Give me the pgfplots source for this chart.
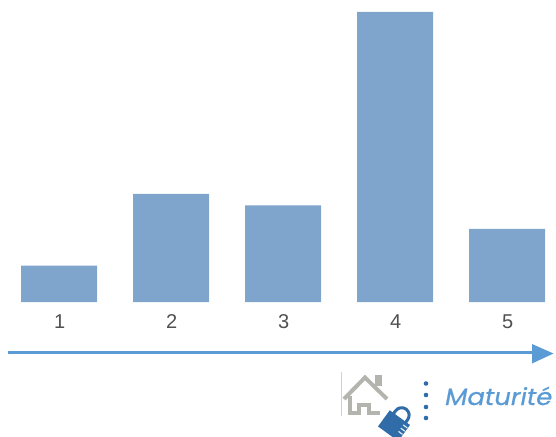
\documentclass[border=0pt]{standalone}
\usepackage{pgfplots}
\pgfplotsset{compat=1.18}
\usepackage{fontspec}
\setmainfont{Liberation Sans}
\newfontfamily\labelfont[FakeStretch=1.1,FakeBold=0.6]{Poppins}
\definecolor{barblue}{HTML}{7FA5CD}
\definecolor{arrowblue}{HTML}{5B9BD5}
\definecolor{lockblue}{HTML}{2F6CA8}
\definecolor{housegrey}{HTML}{B4B4AF}
\definecolor{ticktext}{HTML}{505050}
\begin{document}
\begin{tikzpicture}[x=1pt,y=1pt]
\clip (0,-134) rectangle (556,302);
\path (0,-134) rectangle (556,302);
\begin{axis}[
  at={(0,0)}, anchor=south west,
  scale only axis, width=556pt, height=302pt,
  xmin=0.4732, xmax=5.4375, ymin=0, ymax=30.2,
  axis y line=none, axis x line*=bottom,
  x axis line style={draw=none},
  xtick={1,2,3,4,5},
  xtick style={draw=none},
  tick label style={font=\fontsize{20}{21}\selectfont, text=ticktext},
  xticklabel style={yshift=-5pt, xshift=0.6pt},
  /pgf/number format/assume math mode=true,
  ybar, bar width=76pt,
  clip=false,
]
\addplot[fill=barblue, draw=none, bar shift=0pt] coordinates {
  (1,3.65) (2,10.8) (3,9.65) (4,29.0) (5,7.3)
};
\end{axis}
% arrow, icon and caption: coordinates counted from the top left corner, y downwards
\begin{scope}[shift={(0pt,302pt)}, y=-1pt]
  \draw[arrowblue, line width=2.2pt] (8,352.5) -- (534,352.5);
  \fill[arrowblue] (532,344) -- (553.5,353.5) -- (532,363.5) -- cycle;
  \draw[housegrey!60, line width=0.6pt] (341.5,372) -- (341.5,416);
  % house
  \fill[housegrey] (375,375) rectangle (381.5,386);
  \draw[housegrey, line width=4pt, line join=miter]
    (344,399) -- (365,377.5) -- (387,399);
  \draw[housegrey, line width=4pt, line join=miter]
    (349.5,396) -- (349.5,412.5) -- (358.5,412.5) -- (358.5,405) -- (369,405) -- (369,412.5) -- (380,412.5);
  % padlock: y runs downwards here, so the hoop turns through 270 degrees
  \begin{scope}[shift={(394,425.7)}, rotate=-36]
    \draw[white, line width=5pt] (-7.5,-9) -- (-7.5,-13) arc[start angle=180, end angle=360, radius=7.5] -- (7.5,-9);
    \draw[lockblue, line width=3pt] (-7.5,-9) -- (-7.5,-13) arc[start angle=180, end angle=360, radius=7.5] -- (7.5,-9);
    \fill[lockblue] (-12.5,-10) rectangle (12.5,10);
    \foreach \s in {-6,-2,2}
      \fill[white!85!lockblue] (7,\s-0.6) rectangle (12,\s+0.6);
  \end{scope}
  % separator dots
  \foreach \d in {383.5,395,407,418}
    \fill[lockblue] (426,\d) circle[radius=2.3];
  \node[anchor=base west, inner sep=0pt, text=arrowblue, font=\labelfont\itshape\fontsize{23.5}{24}\selectfont]
    at (445,405) {Maturité};
\end{scope}
\end{tikzpicture}
\end{document}
